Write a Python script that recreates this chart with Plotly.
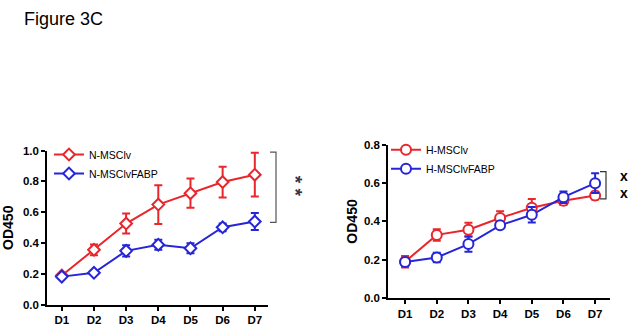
import plotly.graph_objects as go

days = ["D1", "D2", "D3", "D4", "D5", "D6", "D7"]

n_mscl = [0.19, 0.357, 0.527, 0.65, 0.724, 0.796, 0.844]
n_mscl_err = [0.012, 0.035, 0.065, 0.126, 0.095, 0.10, 0.142]
n_fabp = [0.183, 0.208, 0.35, 0.39, 0.367, 0.503, 0.54]
n_fabp_err = [0.012, 0.01, 0.037, 0.032, 0.032, 0.025, 0.055]

h_mscl = [0.19, 0.33, 0.357, 0.418, 0.472, 0.508, 0.535]
h_mscl_err = [0.03, 0.03, 0.036, 0.036, 0.045, 0.022, 0.02]
h_fabp = [0.188, 0.212, 0.282, 0.38, 0.435, 0.527, 0.6]
h_fabp_err = [0.02, 0.025, 0.04, 0.014, 0.04, 0.03, 0.052]

RED = "#e8262b"
BLUE = "#2626d8"
FONT = "Liberation Sans, Arial, sans-serif"

W, H = 635, 334
# axis domains (paper)
LX = [47 / W, 268 / W]
LY = [1 - 310 / H, 1 - 150 / H]
RX = [388 / W, 610 / W]
RY = [1 - 303 / H, 1 - 144 / H]
LYR = [0, 1.0]
RYR = [0, 0.8]


def ypap(v, dom, rng):
    return dom[0] + (v - rng[0]) / (rng[1] - rng[0]) * (dom[1] - dom[0])


fig = go.Figure()


def add(xa, ya, y, err, color, name, symbol, size, legend):
    fig.add_trace(go.Scatter(
        x=days, y=y, name=name, xaxis=xa, yaxis=ya, legend=legend,
        mode="lines+markers",
        line=dict(color=color, width=2),
        marker=dict(symbol=symbol, size=size, color="white",
                    line=dict(color=color, width=2)),
        error_y=dict(type="data", array=err, visible=True, color=color,
                     thickness=2, width=4),
        cliponaxis=False,
    ))


add("x", "y", n_mscl, n_mscl_err, RED, "N-MSClv", "diamond", 9, "legend")
add("x", "y", n_fabp, n_fabp_err, BLUE, "N-MSClvFABP", "diamond", 9, "legend")
add("x2", "y2", h_mscl, h_mscl_err, RED, "H-MSClv", "circle", 10, "legend2")
add("x2", "y2", h_fabp, h_fabp_err, BLUE, "H-MSClvFABP", "circle", 10, "legend2")

tickfont = dict(family=FONT, size=11.5, color="black", weight="bold")
axcommon = dict(showgrid=False, zeroline=False, showline=True, linecolor="black",
                linewidth=1.5, ticks="outside", ticklen=4, tickwidth=1.5,
                tickcolor="black", tickfont=tickfont)
titlefont = dict(family=FONT, size=14, color="black", weight="bold")

fig.update_layout(
    width=W, height=H, margin=dict(l=0, r=0, t=0, b=0),
    paper_bgcolor="white", plot_bgcolor="white",
    xaxis=dict(domain=LX, type="category", range=[-0.46, 6.41], anchor="y", **axcommon),
    yaxis=dict(domain=LY, range=LYR, anchor="x", tickvals=[0, 0.2, 0.4, 0.6, 0.8, 1.0],
               ticktext=["0.0", "0.2", "0.4", "0.6", "0.8", "1.0"],
               title=dict(text="OD450", font=titlefont, standoff=6),
               **axcommon),
    xaxis2=dict(domain=RX, type="category", range=[-0.54, 6.47], anchor="y2", **axcommon),
    yaxis2=dict(domain=RY, range=RYR, anchor="x2", tickvals=[0, 0.2, 0.4, 0.6, 0.8],
                ticktext=["0.0", "0.2", "0.4", "0.6", "0.8"],
                title=dict(text="OD450", font=titlefont, standoff=3),
                **axcommon),
    legend=dict(x=49 / W, y=1 - 139 / H, xanchor="left", yanchor="top",
                font=dict(family=FONT, size=10.5, color="black"), bgcolor="rgba(0,0,0,0)",
                tracegroupgap=0),
    legend2=dict(x=386 / W, y=1 - 134 / H, xanchor="left", yanchor="top",
                 font=dict(family=FONT, size=10.5, color="black"), bgcolor="rgba(0,0,0,0)",
                 tracegroupgap=0),
    showlegend=True,
)

shapes = []
# left bracket
lt = ypap(0.99, LY, LYR)
lb = ypap(0.535, LY, LYR)
lxv = 276 / W
lxh = 270 / W
shapes.append(dict(type="path", xref="paper", yref="paper",
                   path=f"M{lxh},{lt} L{lxv},{lt} L{lxv},{lb} L{lxh},{lb}",
                   line=dict(color="#555555", width=1.2)))
# right bracket
rt = ypap(0.66, RY, RYR)
rb = ypap(0.518, RY, RYR)
rxv = 606 / W
rxh = 600 / W
shapes.append(dict(type="path", xref="paper", yref="paper",
                   path=f"M{rxh},{rt} L{rxv},{rt} L{rxv},{rb} L{rxh},{rb}",
                   line=dict(color="#333333", width=1.2)))
fig.update_layout(shapes=shapes)

ann = []
ann.append(dict(text="Figure 3C", x=22 / W, y=1 - 14 / H, xref="paper", yref="paper",
                xanchor="left", yanchor="middle", showarrow=False,
                font=dict(family=FONT, size=18, color="black")))
ann.append(dict(text="*\u00a0*", x=295 / W, y=1 - 186.5 / H, xref="paper", yref="paper",
                xanchor="center", yanchor="middle", showarrow=False, textangle=90,
                font=dict(family=FONT, size=19, color="#333344", weight="bold")))
for yy in (176, 194):
    ann.append(dict(text="x", x=624 / W, y=1 - yy / H, xref="paper", yref="paper",
                    xanchor="center", yanchor="middle", showarrow=False,
                    font=dict(family=FONT, size=14, color="black", weight="bold")))
fig.update_layout(annotations=ann)

fig.write_html(
    "out.html",
    config={"displayModeBar": False},
    post_script="document.body.style.margin='0';document.body.style.overflow='hidden';",
)
